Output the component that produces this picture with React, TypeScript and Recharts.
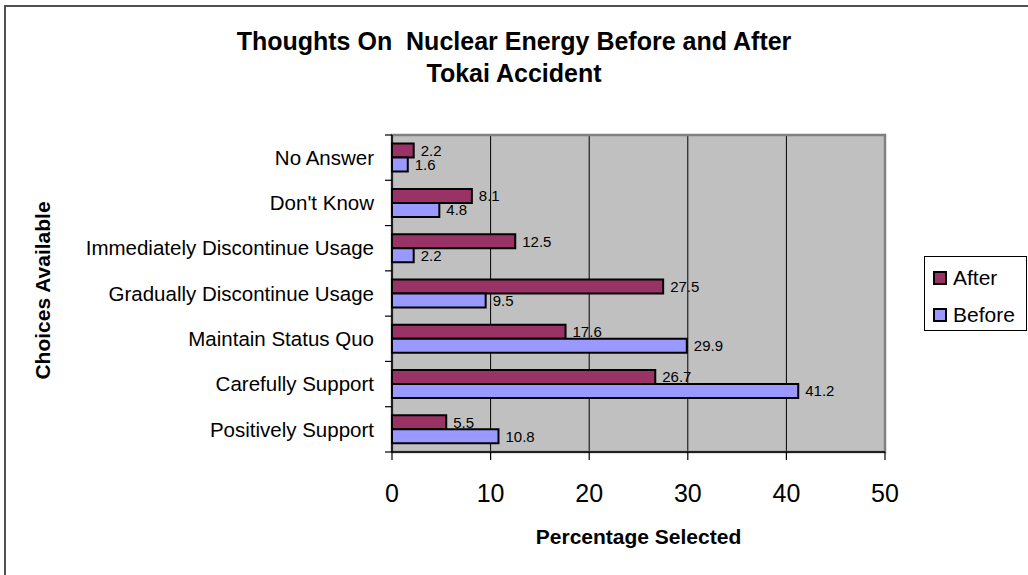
import React from 'react'
import { Bar, BarChart, CartesianGrid, Label, LabelList, Legend, ReferenceArea, XAxis, YAxis } from 'recharts'

const categories = [
  'No Answer',
  "Don't Know",
  'Immediately Discontinue Usage',
  'Gradually Discontinue Usage',
  'Maintain Status Quo',
  'Carefully Support',
  'Positively Support',
]
const afterValues = [2.2, 8.1, 12.5, 27.5, 17.6, 26.7, 5.5]
const beforeValues = [1.6, 4.8, 2.2, 9.5, 29.9, 41.2, 10.8]
const xTicks = [0, 10, 20, 30, 40, 50]

const series = [
  { key: 'after', name: 'After', color: '#993366' },
  { key: 'before', name: 'Before', color: '#9999FF' },
]

const data = categories.map((name, i) => ({ name, after: afterValues[i], before: beforeValues[i] }))

const FONT = '"Liberation Sans", Arial, Helvetica, sans-serif'
const W = 1028
const H = 575
const PLOT = { left: 392, top: 135, right: 885, bottom: 452 }
const BAND = (PLOT.bottom - PLOT.top) / categories.length

const CategoryTick = (props: any) => {
  const { y, payload } = props
  const last = payload.value === categories[categories.length - 1]
  return (
    <g>
      <line x1={PLOT.left - 7} x2={PLOT.left} y1={y - BAND / 2} y2={y - BAND / 2} stroke="#000" strokeWidth={1.2} />
      {last && (
        <line x1={PLOT.left - 7} x2={PLOT.left} y1={y + BAND / 2} y2={y + BAND / 2} stroke="#000" strokeWidth={1.2} />
      )}
      <text x={PLOT.left - 18} y={y} dy="0.35em" textAnchor="end" fontSize={20.5} fill="#000" fontFamily={FONT}>
        {payload.value}
      </text>
    </g>
  )
}

const LegendBox = () => (
  <div
    style={{
      width: 103,
      height: 75,
      boxSizing: 'border-box',
      border: '1px solid #000',
      background: '#fff',
      paddingTop: 11,
      paddingLeft: 8,
      fontFamily: FONT,
      fontSize: 21,
      color: '#000',
    }}
  >
    {series.map((s) => (
      <div key={s.key} style={{ display: 'flex', alignItems: 'center', height: 37, marginTop: -9, marginBottom: 9 }}>
        <span
          style={{
            display: 'inline-block',
            width: 14,
            height: 14,
            boxSizing: 'border-box',
            border: '2px solid #000',
            background: s.color,
            marginRight: 6,
          }}
        />
        <span style={{ lineHeight: '21px' }}>{s.name}</span>
      </div>
    ))}
  </div>
)

export default function App() {
  return (
    <div style={{ position: 'fixed', left: 0, top: 0, width: W, height: H, overflow: 'hidden', background: '#fff' }}>
      <div
        style={{
          position: 'absolute',
          left: 4,
          top: 5,
          width: W,
          height: H,
          borderLeft: '2px solid #505050',
          borderTop: '2px solid #505050',
          pointerEvents: 'none',
        }}
      />
      <div
        style={{
          position: 'absolute',
          left: 0,
          top: 25,
          width: W,
          textAlign: 'center',
          fontFamily: FONT,
          fontWeight: 'bold',
          fontSize: 25,
          lineHeight: '32px',
          color: '#000',
        }}
      >
        <div style={{ whiteSpace: 'pre' }}>Thoughts On  Nuclear Energy Before and After</div>
        <div>Tokai Accident</div>
      </div>
      <BarChart
        width={W}
        height={H}
        data={data}
        layout="vertical"
        margin={{ top: PLOT.top, right: W - PLOT.right, bottom: 0, left: 0 }}
        barCategoryGap="19%"
        barGap={0}
        style={{ fontFamily: FONT }}
      >
        <CartesianGrid horizontal={false} fill="#C0C0C0" fillOpacity={1} stroke="#000" />
        <XAxis
          type="number"
          domain={[0, 50]}
          ticks={xTicks}
          height={H - PLOT.bottom}
          tickSize={8}
          tickMargin={24}
          axisLine={{ stroke: '#000', strokeWidth: 1.5 }}
          tickLine={{ stroke: '#000', strokeWidth: 1.2 }}
          tick={{ fontSize: 25, fill: '#000', fontFamily: FONT }}
        >
          <Label
            content={(p: any) => (
              <text
                x={p.viewBox.x + p.viewBox.width / 2}
                y={p.viewBox.y + 85}
                dy="0.35em"
                textAnchor="middle"
                fontSize={21}
                fontWeight="bold"
                fontFamily={FONT}
                fill="#000"
              >
                Percentage Selected
              </text>
            )}
          />
        </XAxis>
        <YAxis
          type="category"
          dataKey="name"
          width={PLOT.left}
          interval={0}
          tickLine={false}
          axisLine={{ stroke: '#000', strokeWidth: 1.5 }}
          tick={<CategoryTick />}
        >
          <Label
            content={(p: any) => (
              <text
                x={p.viewBox.x + 43}
                y={p.viewBox.y + p.viewBox.height / 2 - 3}
                transform={`rotate(-90 ${p.viewBox.x + 43} ${p.viewBox.y + p.viewBox.height / 2 - 3})`}
                dy="0.35em"
                textAnchor="middle"
                fontSize={21}
                fontWeight="bold"
                fontFamily={FONT}
                fill="#000"
              >
                Choices Available
              </text>
            )}
          />
        </YAxis>
        <ReferenceArea x1={0} x2={50} fill="none" stroke="#808080" strokeWidth={2.5} ifOverflow="visible" />
        <Legend
          layout="vertical"
          align="center"
          verticalAlign="middle"
          wrapperStyle={{ left: 924, top: 256, width: 103, height: 75 }}
          content={<LegendBox />}
        />
        {series.map((s) => (
          <Bar key={s.key} dataKey={s.key} name={s.name} fill={s.color} stroke="#000" strokeWidth={2} isAnimationActive={false}>
            <LabelList dataKey={s.key} position="right" offset={7} fontSize={15} fill="#000" fontFamily={FONT} />
          </Bar>
        ))}
      </BarChart>
    </div>
  )
}
